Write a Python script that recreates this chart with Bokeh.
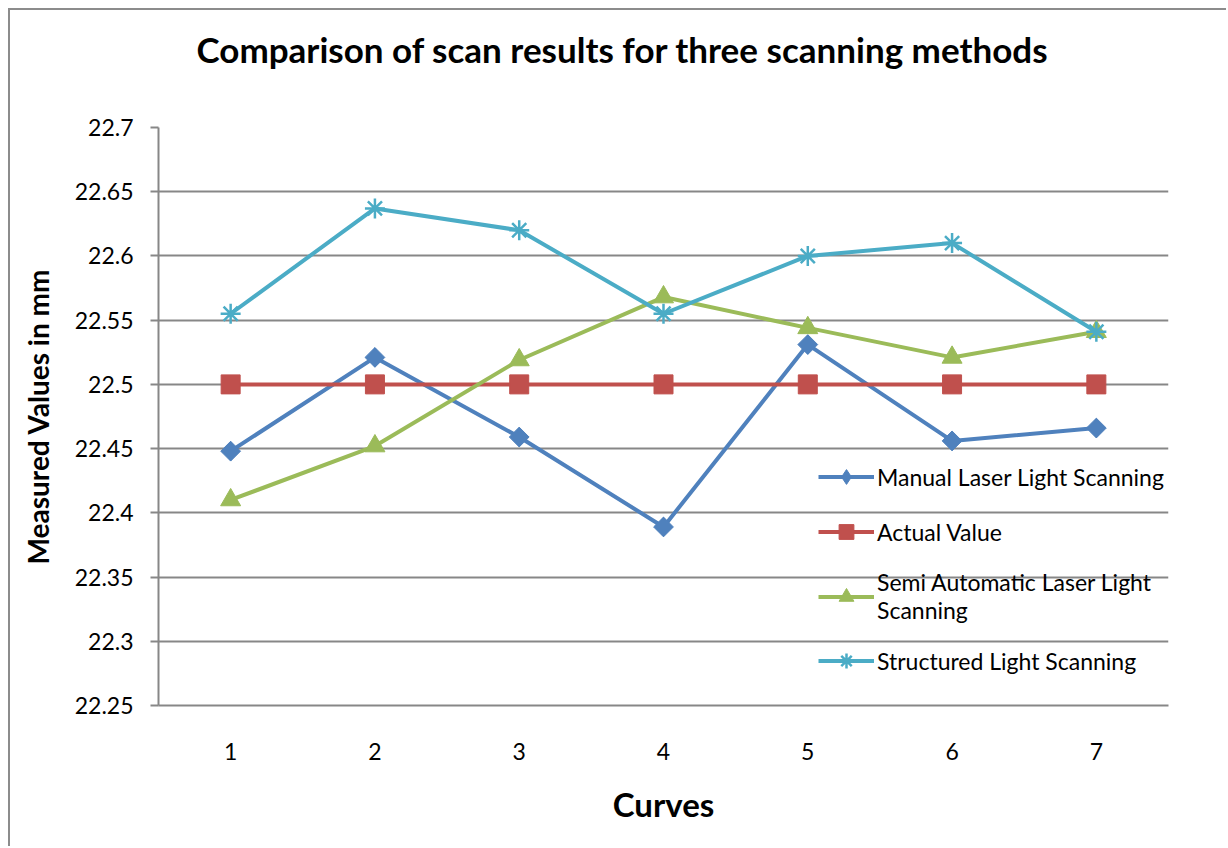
import math
from bokeh.plotting import figure
from bokeh.models import FactorRange, Range1d, FixedTicker, Legend, LegendItem, Title
from bokeh.core.properties import value
from bokeh.embed import file_html
from bokeh.resources import INLINE

categories = ["1", "2", "3", "4", "5", "6", "7"]
manual = [22.448, 22.521, 22.459, 22.389, 22.531, 22.456, 22.466]
actual = [22.5, 22.5, 22.5, 22.5, 22.5, 22.5, 22.5]
semi = [22.410, 22.452, 22.519, 22.568, 22.544, 22.521, 22.541]
structured = [22.555, 22.637, 22.620, 22.555, 22.600, 22.610, 22.541]

y_ticks = [22.25, 22.3, 22.35, 22.4, 22.45, 22.5, 22.55, 22.6, 22.65, 22.7]
y_tick_labels = ["22.25", "22.3", "22.35", "22.4", "22.45", "22.5", "22.55", "22.6", "22.65", "22.7"]

series_names = ["Manual Laser Light Scanning", "Actual Value",
                "Semi Automatic Laser Light\nScanning", "Structured Light Scanning"]
title_text = "Comparison of scan results for three scanning methods"

TEXT_FONT = "Lato"
BOLD_FONT = "Lato"
GRID = "#878787"

p = figure(width=1218, height=838, x_range=FactorRange(*categories, range_padding=0),
           y_range=Range1d(22.25, 22.7), output_backend="svg", toolbar_location=None,
           min_border_left=148, min_border_right=60, min_border_top=117, min_border_bottom=143)
p.title = None
p.add_layout(Title(text=title_text + "\n ", align="left",
                   vertical_align="top", offset=38, text_font=BOLD_FONT, text_font_size="35px",
                   text_font_style="bold", text_color="black", standoff=28), "above")

p.outline_line_color = None
p.background_fill_color = "white"
p.border_fill_color = "white"
p.styles = {"margin-left": "8px", "margin-top": "8px",
            "border-left": "2px solid #8c8c8c", "border-top": "2px solid #8c8c8c"}

p.xgrid.grid_line_color = None
p.ygrid.grid_line_color = GRID
p.ygrid.grid_line_width = 2

p.yaxis.ticker = FixedTicker(ticks=y_ticks)
p.yaxis.major_label_overrides = {t: l for t, l in zip(y_ticks, y_tick_labels)}
p.yaxis.minor_tick_line_color = None
p.yaxis.major_tick_in = 0
p.yaxis.major_tick_out = 8
p.yaxis.major_tick_line_color = GRID
p.yaxis.major_tick_line_width = 2
p.yaxis.axis_line_color = GRID
p.yaxis.axis_line_width = 2
p.yaxis.major_label_text_font = TEXT_FONT
p.yaxis.major_label_text_font_size = "23px"
p.yaxis.major_label_text_color = "black"
p.yaxis.major_label_standoff = 17
p.yaxis.axis_label = "Measured Values in mm"
p.yaxis.axis_label_text_font = BOLD_FONT
p.yaxis.axis_label_text_font_size = "28px"
p.yaxis.axis_label_text_font_style = "bold"
p.yaxis.axis_label_text_color = "black"
p.yaxis.axis_label_standoff = 17

p.xaxis.major_tick_line_color = None
p.xaxis.minor_tick_line_color = None
p.xaxis.axis_line_color = GRID
p.xaxis.axis_line_width = 2
p.xaxis.major_label_text_font = TEXT_FONT
p.xaxis.major_label_text_font_size = "23px"
p.xaxis.major_label_text_color = "black"
p.xaxis.major_label_standoff = 31
p.xaxis.axis_label = "Curves"
p.xaxis.axis_label_text_font = BOLD_FONT
p.xaxis.axis_label_text_font_size = "33px"
p.xaxis.axis_label_text_font_style = "bold"
p.xaxis.axis_label_text_color = "black"
p.xaxis.axis_label_standoff = 21

colors = ["#4F81BD", "#C0504D", "#9BBB59", "#4BACC6"]
items = []

l1 = p.line(categories, manual, line_color=colors[0], line_width=4)
d1 = p.scatter(categories, manual, marker="diamond", size=19, fill_color=colors[0], line_color=colors[0])
m1 = p.scatter(categories, manual, marker="square", angle=math.pi / 4, size=14,
               fill_color=colors[0], line_color=colors[0])
items.append(LegendItem(label=series_names[0], renderers=[l1, d1]))

l2 = p.line(categories, actual, line_color=colors[1], line_width=4)
m2 = p.scatter(categories, actual, marker="square", size=19, fill_color=colors[1], line_color=colors[1])
items.append(LegendItem(label=series_names[1], renderers=[l2, m2]))

l3 = p.line(categories, semi, line_color=colors[2], line_width=4)
m3 = p.scatter(categories, semi, marker="triangle", size=20, fill_color=colors[2], line_color=colors[2])
items.append(LegendItem(label=series_names[2], renderers=[l3, m3]))

l4 = p.line(categories, structured, line_color=colors[3], line_width=4)
m4 = p.scatter(categories, structured, marker="asterisk", size=20, line_color=colors[3], line_width=2.5)
items.append(LegendItem(label=series_names[3], renderers=[l4, m4]))

legend = Legend(items=items, location=(660, 26), orientation="vertical",
                background_fill_alpha=0, border_line_color=None,
                label_text_font=TEXT_FONT, label_text_font_size="23px", label_text_color="black",
                glyph_width=56, glyph_height=37, label_height=37, label_standoff=3,
                spacing=18, padding=0, margin=0)
p.add_layout(legend, "center")

open("out.html", "w").write(file_html(p, INLINE))
